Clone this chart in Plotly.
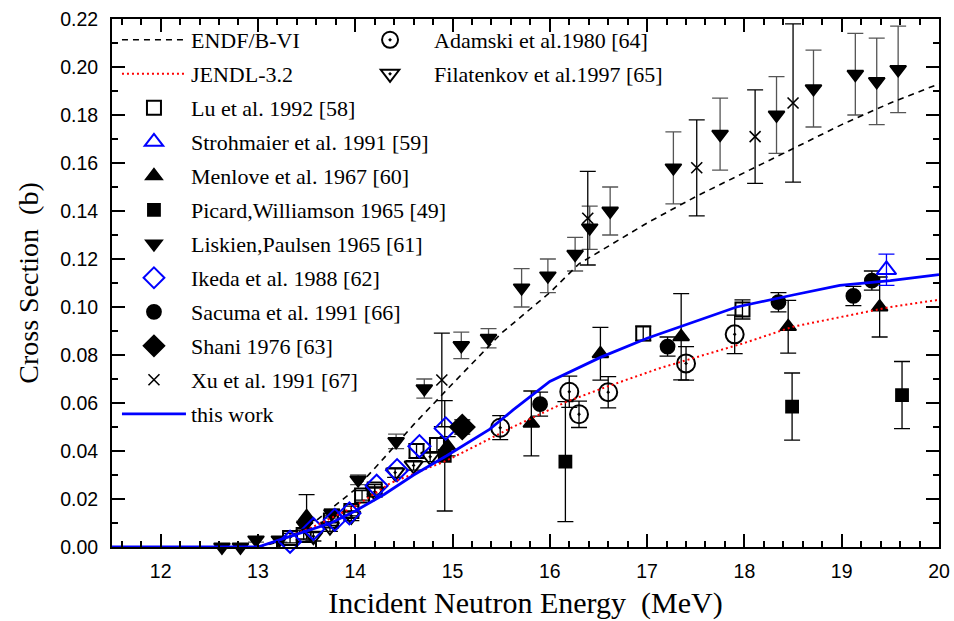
import plotly.graph_objects as go

# ---------------- data ----------------
# Evaluations / calculation (energy in MeV, cross section in b)
endf_e = [13.0, 13.3, 13.6, 14.0, 14.25, 14.6, 15.0, 15.5, 16.0, 16.3, 17.0, 17.5, 18.0, 18.5, 19.0, 19.5, 20.0]
endf_s = [0.0, 0.003, 0.011, 0.024, 0.035, 0.051, 0.068, 0.089, 0.106, 0.118, 0.135, 0.146, 0.156, 0.166, 0.176, 0.185, 0.193]

jendl_e = [13.0, 13.3, 13.6, 14.0, 14.36, 14.94, 15.62, 16.17, 16.6, 17.13, 17.5, 18.0, 18.5, 19.0, 19.5, 20.0]
jendl_s = [0.0, 0.004, 0.009, 0.017, 0.0266, 0.036, 0.050, 0.0605, 0.067, 0.0745, 0.079, 0.085, 0.0918, 0.096, 0.100, 0.103]

work_e = [11.5, 13.0, 13.3, 13.75, 14.0, 14.3, 14.6, 14.94, 15.38, 15.62, 16.0, 16.52, 17.0, 17.5, 17.92, 18.5, 18.98, 19.5, 20.0]
work_s = [0.0, 0.0, 0.004, 0.010, 0.015, 0.022, 0.030, 0.038, 0.049, 0.057, 0.069, 0.079, 0.087, 0.094, 0.100, 0.105, 0.109, 0.111, 0.1135]

# Experimental data
lu_e = [13.33, 13.47, 13.75, 13.96, 14.07, 14.2, 14.63, 14.84, 16.96, 17.98]
lu_s = [0.0037, 0.005, 0.011, 0.015, 0.0215, 0.024, 0.040, 0.0425, 0.089, 0.099]
lu_err = [0.002, 0.002, 0.002, 0.002, 0.002, 0.002, 0.003, 0.003, 0.003, 0.004]

stroh_e = [19.46]
stroh_s = [0.1155]
stroh_err = [0.0065]

menlove_e = [13.50, 14.95, 15.81, 16.52, 17.35, 18.45, 19.39]
menlove_s = [0.0126, 0.042, 0.0515, 0.0805, 0.0876, 0.0918, 0.100]
menlove_err = [0.0092, 0.004, 0.0135, 0.011, 0.018, 0.011, 0.0125]

picard_e = [14.92, 16.16, 18.49, 19.62]
picard_s = [0.038, 0.0356, 0.0585, 0.0633]
picard_err = [0.023, 0.025, 0.014, 0.014]

liskien_e = [12.63, 12.82, 12.98, 13.22, 13.48, 13.76, 14.03, 14.42, 14.71, 15.09, 15.37, 15.71, 15.98,
             16.26, 16.41, 16.62, 17.27, 17.75, 18.33, 18.71, 19.14, 19.36, 19.58]
liskien_s = [0.0, 0.0, 0.003, 0.003, 0.009, 0.014, 0.028, 0.044, 0.066, 0.084, 0.087, 0.108, 0.113,
             0.122, 0.133, 0.140, 0.158, 0.172, 0.180, 0.191, 0.197, 0.194, 0.199]
liskien_err = [0.001, 0.001, 0.001, 0.001, 0.002, 0.002, 0.002, 0.003, 0.004, 0.0055, 0.004, 0.008, 0.007,
               0.007, 0.009, 0.010, 0.015, 0.015, 0.016, 0.016, 0.017, 0.018, 0.018]

ikeda_e = [13.33, 13.57, 13.79, 13.94, 14.22, 14.43, 14.66, 14.93]
ikeda_s = [0.0022, 0.0075, 0.0113, 0.014, 0.0255, 0.032, 0.042, 0.0494]

sacuma_e = [15.90, 17.21, 18.35, 19.12, 19.31]
sacuma_s = [0.0595, 0.0835, 0.102, 0.1046, 0.111]
sacuma_err = [0.005, 0.004, 0.004, 0.004, 0.004]

shani_e = [15.10]
shani_s = [0.050]
shani_err = [0.003]

xu_e = [14.89, 16.39, 17.51, 18.11, 18.50]
xu_s = [0.0696, 0.137, 0.158, 0.171, 0.185]
xu_err = [0.0195, 0.0195, 0.020, 0.0195, 0.033]

adamski_e = [15.49, 16.20, 16.30, 16.60, 17.40, 17.90]
adamski_s = [0.0497, 0.0647, 0.0553, 0.0645, 0.0765, 0.0886]
adamski_err = [0.005, 0.0065, 0.0055, 0.0065, 0.007, 0.008]

filat_e = [13.57, 13.74, 13.96, 14.20, 14.41, 14.60, 14.77]
filat_s = [0.0045, 0.0085, 0.013, 0.023, 0.031, 0.034, 0.0376]
filat_err = [0.002, 0.002, 0.002, 0.002, 0.002, 0.002, 0.002]

x_ticks = [12, 13, 14, 15, 16, 17, 18, 19, 20]
y_ticks = [0.00, 0.02, 0.04, 0.06, 0.08, 0.10, 0.12, 0.14, 0.16, 0.18, 0.20, 0.22]

SERIF = "Liberation Serif"
SANS = "Liberation Sans"

fig = go.Figure()


def err(vals, color="black"):
    if vals is None:
        return None
    return dict(type="data", array=vals, visible=True, color=color, thickness=1.3, width=8)


def add_points(name, ex, sy, errs, symbol, size, color, rank, legend="legend",
               lw=1.8, ecolor="black"):
    mk = dict(symbol=symbol, size=size, color=color,
              line=dict(color=color, width=lw))
    fig.add_trace(go.Scatter(
        x=ex, y=sy, mode="markers", name=name, marker=mk,
        error_y=err(errs, ecolor), legendrank=rank, legendgroup=name,
        legend=legend, cliponaxis=False))


# experimental sets (drawn first)
add_points("Picard,Williamson 1965 [49]", picard_e, picard_s, picard_err, "square", 12, "black", 6)
add_points("Liskien,Paulsen 1965 [61]", liskien_e, liskien_s, liskien_err, "triangle-down", 14, "black", 7,
           ecolor="#555555")
add_points("Menlove et al. 1967 [60]", menlove_e, menlove_s, menlove_err, "triangle-up", 14, "black", 5)
add_points("Sacuma et al. 1991 [66]", sacuma_e, sacuma_s, sacuma_err, "circle", 14, "black", 9)
add_points("Xu et al. 1991 [67]", xu_e, xu_s, xu_err, "x-thin", 11, "black", 11, lw=1.6)
add_points("Filatenkov et al.1997 [65]", filat_e, filat_s, filat_err, "triangle-down-open-dot", 16, "black", 2,
           legend="legend2", lw=2)
add_points("Lu et al. 1992 [58]", lu_e, lu_s, lu_err, "square-open", 14, "black", 3, lw=2)
add_points("Adamski et al.1980 [64]", adamski_e, adamski_s, adamski_err, "circle-open-dot", 18, "black", 1,
           legend="legend2", lw=2)
add_points("Ikeda et al. 1988 [62]", ikeda_e, ikeda_s, None, "diamond-open", 17, "#0000ff", 8, lw=2)
add_points("Shani 1976 [63]", shani_e, shani_s, shani_err, "diamond", 19, "black", 10)
add_points("Strohmaier et al. 1991 [59]", stroh_e, stroh_s, stroh_err, "triangle-up-open", 17, "#0000ff", 4,
           lw=2, ecolor="#0000ff")

# curves (drawn on top)
fig.add_trace(go.Scatter(x=endf_e, y=endf_s, mode="lines", name="ENDF/B-VI",
                         line=dict(color="black", width=1.6, dash="6px,5px"),
                         legendrank=1, legendgroup="endf"))
fig.add_trace(go.Scatter(x=jendl_e, y=jendl_s, mode="lines", name="JENDL-3.2",
                         line=dict(color="#ff0000", width=2, dash="2px,3px"),
                         legendrank=2, legendgroup="jendl"))
fig.add_trace(go.Scatter(x=work_e, y=work_s, mode="lines", name="this work",
                         line=dict(color="#0000ff", width=2.8),
                         legendrank=12, legendgroup="work", cliponaxis=False))

axis_common = dict(
    showline=True, linewidth=2, linecolor="black", mirror="allticks",
    ticks="inside", ticklen=13, tickwidth=1.5, tickcolor="black",
    showgrid=False, zeroline=False, automargin=False,
    tickfont=dict(family=SANS, size=19.5, color="black"),
)

fig.update_xaxes(
    range=[11.5, 20], tickmode="array", tickvals=x_ticks, ticktext=[str(v) for v in x_ticks],
    minor=dict(ticks="inside", dtick=0.2, tick0=12, ticklen=6, tickwidth=1.5, tickcolor="black", showgrid=False),
    title=dict(text="Incident Neutron Energy  (MeV)", font=dict(family=SERIF, size=30, color="black"), standoff=11),
    ticklabelstandoff=6,
    **axis_common)
fig.update_yaxes(
    range=[0, 0.22], tickmode="array", tickvals=y_ticks, ticktext=[f"{v:.2f}" for v in y_ticks],
    minor=dict(ticks="inside", dtick=0.01, tick0=0, ticklen=6, tickwidth=1.5, tickcolor="black", showgrid=False),
    title=dict(text="Cross Section  (b)", font=dict(family=SERIF, size=28, color="black"), standoff=13),
    ticklabelstandoff=8,
    **axis_common)

fig.update_layout(
    width=954, height=621,
    margin=dict(l=112, r=15, t=19, b=74),
    paper_bgcolor="white", plot_bgcolor="white",
    showlegend=True,
    legend=dict(x=0.006, y=1.0, xanchor="left", yanchor="top", bgcolor="rgba(0,0,0,0)",
                font=dict(family=SERIF, size=22, color="black"), tracegroupgap=2.4,
                itemwidth=64, traceorder="grouped", itemclick=False, itemdoubleclick=False),
    legend2=dict(x=0.283, y=1.0, xanchor="left", yanchor="top", bgcolor="rgba(0,0,0,0)",
                 font=dict(family=SERIF, size=22, color="black"), tracegroupgap=2.4,
                 itemwidth=78, traceorder="grouped", itemclick=False, itemdoubleclick=False),
)

fig.write_html("out.html")
